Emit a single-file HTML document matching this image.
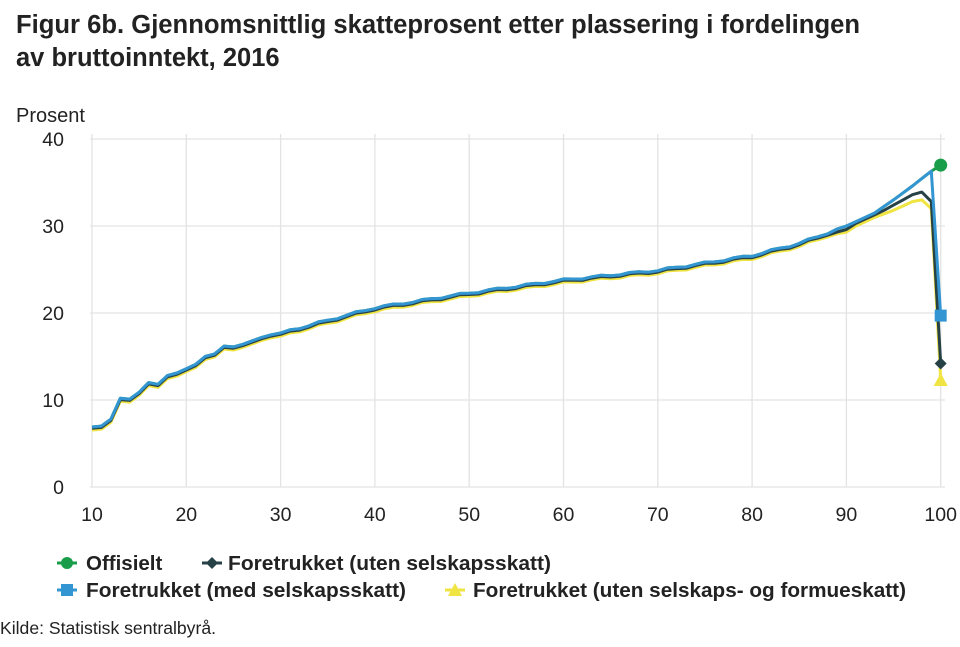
<!DOCTYPE html>
<html><head><meta charset="utf-8"><style>
body{margin:0;width:960px;height:642px;background:#fff;font-family:"Liberation Sans",sans-serif;overflow:hidden}
</style></head><body>
<svg id="s" width="960" height="642" xmlns="http://www.w3.org/2000/svg" font-family="Liberation Sans, sans-serif">
<text x="16" y="33" font-size="25.5" font-weight="bold" fill="#222" textLength="844" lengthAdjust="spacingAndGlyphs">Figur 6b. Gjennomsnittlig skatteprosent etter plassering i fordelingen</text>
<text x="16" y="66" font-size="25.5" font-weight="bold" fill="#222">av bruttoinntekt, 2016</text>
<text x="16" y="122" font-size="20" fill="#222">Prosent</text>
<g id="grid" stroke="#e3e3e3" stroke-width="1.3"></g>
<g id="lab" font-size="19.5" fill="#222"></g>
<g id="ser" fill="none" stroke-width="3" stroke-linejoin="round"></g>
<g font-size="20.5" font-weight="bold" fill="#222">
<line x1="57" y1="563" x2="77" y2="563" stroke="#1a9d49" stroke-width="3"/><circle cx="67" cy="563" r="6" fill="#1a9d49"/>
<text x="86" y="570">Offisielt</text>
<line x1="202" y1="563" x2="222" y2="563" stroke="#274247" stroke-width="3"/><path d="M212 557 L218 563 L212 569 L206 563Z" fill="#274247"/>
<text x="228" y="570" textLength="323" lengthAdjust="spacingAndGlyphs">Foretrukket (uten selskapsskatt)</text>
<line x1="57" y1="590" x2="77" y2="590" stroke="#3396d2" stroke-width="3"/><rect x="61" y="584" width="12" height="12" fill="#3396d2"/>
<text x="86" y="597" textLength="320" lengthAdjust="spacingAndGlyphs">Foretrukket (med selskapsskatt)</text>
<line x1="445" y1="590" x2="465" y2="590" stroke="#f0e442" stroke-width="3"/><path d="M455 583 L462 596 L448 596Z" fill="#f0e442"/>
<text x="473" y="597" textLength="433" lengthAdjust="spacingAndGlyphs">Foretrukket (uten selskaps- og formueskatt)</text>
</g>
<text x="0" y="634" font-size="17.5" fill="#222" textLength="216" lengthAdjust="spacingAndGlyphs">Kilde: Statistisk sentralbyrå.</text>
</svg>
<script>
const X=v=>92+(v-10)*9.43, Y=v=>487-v*8.7, ns="http://www.w3.org/2000/svg";
function el(p,t,a,txt){const e=document.createElementNS(ns,t);for(const k in a)e.setAttribute(k,a[k]);if(txt!=null)e.textContent=txt;document.getElementById(p).appendChild(e);return e;}
for(let v=0;v<=40;v+=10){el('grid','line',{x1:90,x2:945,y1:Y(v),y2:Y(v)});el('lab','text',{x:64,y:Y(v)+7,'text-anchor':'end'},v);}
for(let v=10;v<=100;v+=10){el('grid','line',{x1:X(v),x2:X(v),y1:Y(40)-5,y2:487});el('lab','text',{x:X(v),y:521,'text-anchor':'middle'},v);}
const k={10:6.9,11:7.0,12:7.8,13:10.2,14:10.1,15:10.9,16:12.0,17:11.8,18:12.8,19:13.1,20:13.6,21:14.1,22:15.0,23:15.3,24:16.2,25:16.1,26:16.4,27:16.8,28:17.2,29:17.5,30:17.7,40:20.6,50:22.3,60:23.8,70:24.9,80:26.6,85:28.0,90:30.0,93:31.5,95:33.0,97:34.6,99:36.3};
const ks=Object.keys(k).map(Number);
function f(x){for(let i=0;i<ks.length-1;i++){if(x>=ks[i]&&x<=ks[i+1]){const a=ks[i],b=ks[i+1];return k[a]+(k[b]-k[a])*(x-a)/(b-a);}}return k[99];}
function pts(mod,last){let p=[];for(let x=10;x<=99;x++)p.push([x,mod(x,f(x))]);p.push([100,last]);return p.map(q=>X(q[0]).toFixed(1)+','+Y(q[1]).toFixed(1)).join(' ');}
const wig=x=>(x>30&&x<90)?0.12*Math.sin(x*1.7):0;
const blk=(x,v)=>x<=88?v-0.15+wig(x):(x==89?v-0.3:x==90?v-0.4:x==91?30.3:x==92?30.8:x==93?31.3:x==94?31.8:x==95?32.4:x==96?33.0:x==97?33.6:x==98?33.9:32.8);
const yel=(x,v)=>x<=88?v-0.35+wig(x):(x==89?v-0.5:x==90?v-0.7:x==91?30.0:x==92?30.5:x==93?31.0:x==94?31.4:x==95?31.8:x==96?32.3:x==97?32.8:x==98?33.0:32.0);
el('ser','polyline',{points:pts((x,v)=>v+wig(x),37),stroke:'#1a9d49'});
el('ser','polyline',{points:pts(yel,12.3),stroke:'#f0e442'});
el('ser','polyline',{points:pts(blk,14.2),stroke:'#274247'});
el('ser','polyline',{points:pts((x,v)=>v+wig(x),19.7),stroke:'#3396d2'});
el('ser','circle',{cx:X(100),cy:Y(37),r:6.5,fill:'#1a9d49',stroke:'none'});
el('ser','rect',{x:X(100)-6,y:Y(19.7)-6,width:12,height:12,fill:'#3396d2',stroke:'none'});
el('ser','path',{d:`M${X(100)} ${Y(14.2)-6} l6 6 l-6 6 l-6 -6z`,fill:'#274247',stroke:'none'});
el('ser','path',{d:`M${X(100)} ${Y(12.3)-7} l7 13 l-14 0z`,fill:'#f0e442',stroke:'none'});
</script>
</body></html>
